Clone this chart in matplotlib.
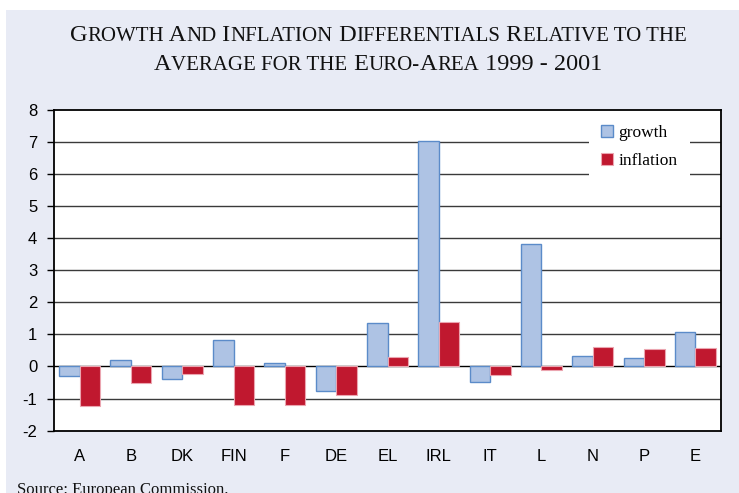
import numpy as np
import matplotlib
matplotlib.use('Agg')
import matplotlib.pyplot as plt
from matplotlib.patches import Rectangle

plt.rcParams['axes.unicode_minus'] = False

# ------------------------------------------------------------------
# data
# ------------------------------------------------------------------
countries = ['A', 'B', 'DK', 'FIN', 'F', 'DE', 'EL', 'IRL', 'IT', 'L', 'N', 'P', 'E']
growth = [-0.29, 0.20, -0.38, 0.83, 0.10, -0.75, 1.36, 7.03, -0.48, 3.82, 0.33, 0.26, 1.06]
inflation = [-1.22, -0.52, -0.22, -1.19, -1.19, -0.89, 0.30, 1.37, -0.26, -0.12, 0.60, 0.54, 0.57]
y_ticks = [-2, -1, 0, 1, 2, 3, 4, 5, 6, 7, 8]

BG = '#E8EBF5'
GROWTH_FACE = '#AEC3E4'
GROWTH_EDGE = '#5B8BC9'
INFL_FACE = '#C0182F'
INFL_EDGE = '#EBA5B0'

W, H = 739, 493
fig = plt.figure(figsize=(W / 100, H / 100), dpi=100, facecolor='white')

# lavender panel (small white margin on top / left)
fig.patches.append(Rectangle((6 / W, 0), 1, (H - 10) / H, transform=fig.transFigure,
                             facecolor=BG, edgecolor='none', zorder=-10))

ax = fig.add_axes([54 / W, 1 - 430.7 / H, (721 - 54) / W, (430.7 - 109.5) / H])
ax.set_facecolor('white')

x = np.arange(len(countries))
bw = 0.4
ax.bar(x - bw / 2, growth, bw, color=GROWTH_FACE, edgecolor=GROWTH_EDGE,
       linewidth=1.0, label='growth', zorder=3)
ax.bar(x + bw / 2, inflation, bw, color=INFL_FACE, edgecolor=INFL_EDGE,
       linewidth=0.8, label='inflation', zorder=3)

ax.set_xlim(-0.5, len(countries) - 0.5)
ax.set_ylim(-2, 8)
ax.set_yticks(y_ticks)
ax.set_xticks(x)
ax.set_xticklabels(countries)

for v in y_ticks[1:-1]:
    ax.axhline(v, color='#000000' if v == 0 else '#3a3a3a', lw=1.0, zorder=1)

for s in ax.spines.values():
    s.set_color('black')
    s.set_linewidth(1.3)

ax.tick_params(axis='y', length=5, width=1, direction='out', pad=7,
               labelsize=12, labelfontfamily='Liberation Sans')
ax.tick_params(axis='x', length=0, pad=13, labelsize=12,
               labelfontfamily='Liberation Sans')

leg = ax.legend(loc='upper right', bbox_to_anchor=(0.953, 0.99), frameon=True,
                fancybox=False, framealpha=1, facecolor='white', edgecolor='none',
                prop={'family': 'Liberation Serif', 'size': 12.5},
                handlelength=0.7, handleheight=0.7, handletextpad=0.3,
                labelspacing=0.7, borderpad=0.7, borderaxespad=0)
leg.set_zorder(5)

# ------------------------------------------------------------------
# small-caps title built from pieces
# ------------------------------------------------------------------
BIG, SMALL = 17.5, 15
line1 = [('G', BIG), ('ROWTH', SMALL), (' A', BIG), ('ND', SMALL), (' I', BIG),
         ('NFLATION', SMALL), (' D', BIG), ('IFFERENTIALS', SMALL), (' R', BIG),
         ('ELATIVE TO THE', SMALL)]
line2 = [('A', BIG), ('VERAGE FOR THE', SMALL), (' E', BIG), ('URO-', SMALL),
         ('A', BIG), ('REA', SMALL), (' 1999 - 2001', BIG)]

renderer = fig.canvas.get_renderer()


def small_caps(parts, y_px, cx_px=378):
    texts = []
    for s, size in parts:
        t = fig.text(0, 1 - y_px / H, s, fontsize=size, family='Liberation Serif',
                     va='baseline', ha='left', color='#111111')
        texts.append(t)
    widths = [t.get_window_extent(renderer).width for t in texts]
    x0 = cx_px - sum(widths) / 2
    for t, w in zip(texts, widths):
        t.set_x(x0 / W)
        x0 += w


small_caps(line1, 41)
small_caps(line2, 70)

fig.text(17 / W, 1 - 494 / H, 'Source: European Commission.', fontsize=12,
         family='Liberation Serif', va='baseline', ha='left', color='#111111')

fig.savefig('out.png', dpi=100, facecolor=fig.get_facecolor())
